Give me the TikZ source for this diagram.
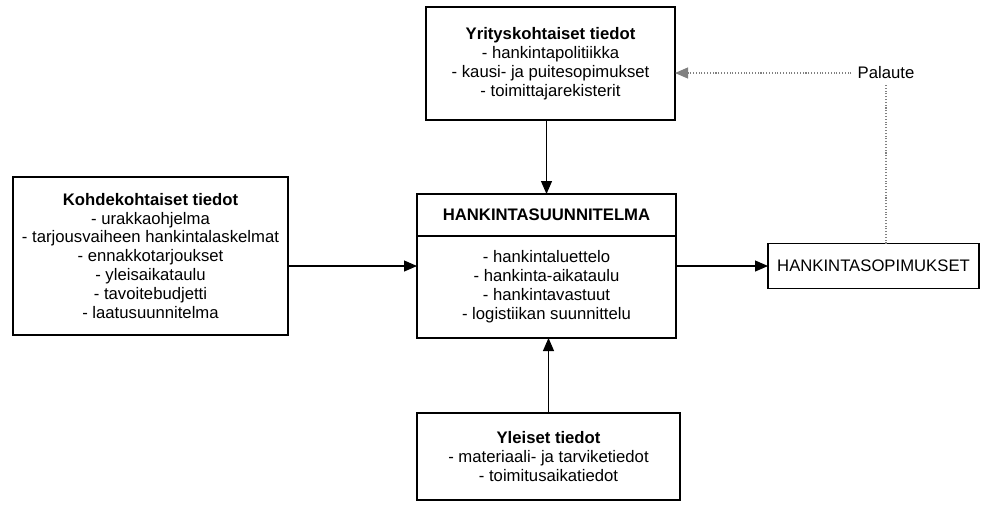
\documentclass[tikz,border=0pt]{standalone}
\usepackage{fontspec}
\setmainfont{Liberation Sans}
\usepackage{tikz}
\usetikzlibrary{arrows.meta, positioning, calc}

\begin{document}
\begin{tikzpicture}[
  every node/.style={font=\fontsize{9.5}{10.8}\selectfont},
  box/.style={draw, line width=0.6pt, align=center, inner sep=2pt, outer sep=0pt},
  arr/.style={line width=0.6pt, -{Triangle[length=2.6mm,width=2.2mm]}},
  fb/.style={gray, densely dotted, line width=0.6pt, -{Triangle[length=2.6mm,width=2.2mm]}}
]
  \useasboundingbox (0,0) rectangle (19.98,-10.12);

  % boxes
  \node[box, minimum width=4.98cm, minimum height=2.26cm] (yri) at (11.01,-1.27)
    {\textbf{Yrityskohtaiset tiedot}\\- hankintapolitiikka\\- kausi- ja puitesopimukset\\- toimittajarekisterit};
  \node[box, minimum width=5.5cm, minimum height=3.16cm] (koh) at (3.01,-5.12)
    {\textbf{Kohdekohtaiset tiedot}\\- urakkaohjelma\\- tarjousvaiheen hankintalaskelmat\\- ennakkotarjoukset\\- yleisaikataulu\\- tavoitebudjetti\\- laatusuunnitelma};
  \node[box, minimum width=5.18cm, minimum height=0.84cm] (hdr) at (10.93,-4.30)
    {\textbf{HANKINTASUUNNITELMA}};
  \node[box, minimum width=5.18cm, minimum height=2.04cm, below=0pt of hdr] (sis)
    {- hankintaluettelo\\- hankinta-aikataulu\\- hankintavastuut\\- logistiikan suunnittelu};
  \node[box, minimum width=4.22cm, minimum height=0.9cm] (sop) at (17.47,-5.32)
    {HANKINTASOPIMUKSET};
  \node[box, minimum width=5.26cm, minimum height=1.74cm] (yle) at (10.97,-9.13)
    {\textbf{Yleiset tiedot}\\- materiaali- ja tarviketiedot\\- toimitusaikatiedot};
  \node (pal) at (17.72,-1.46) {Palaute};

  % arrows
  \draw[arr] (hdr.north |- yri.south) -- (hdr.north);
  \draw[arr] (koh.east |- sop.west) -- (sis.west |- sop.west);
  \draw[arr] (yle.north) -- (yle.north |- sis.south);
  \draw[arr] (sis.east |- sop.west) -- (sop.west);

  % palaute
  \draw[gray, densely dotted, line width=0.6pt] (sop.north -| pal.south) -- (pal.south);
  \draw[fb] (pal.west) -- (pal.west -| yri.east);
\end{tikzpicture}
\end{document}
